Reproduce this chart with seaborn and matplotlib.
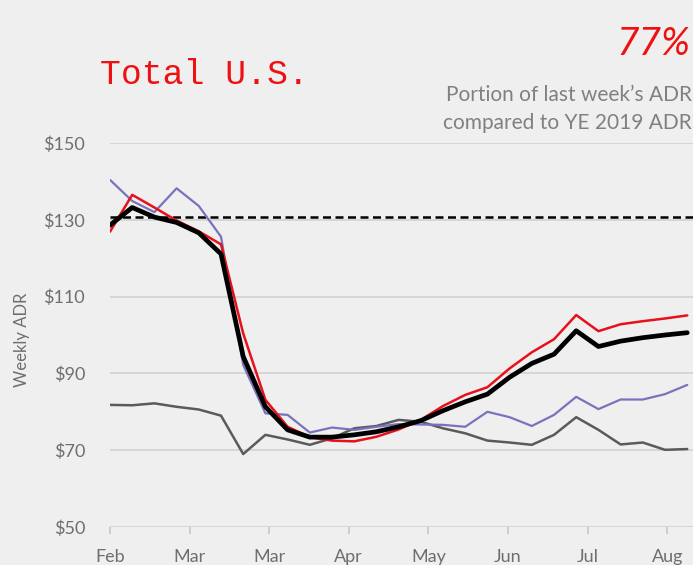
import numpy as np
import pandas as pd
import matplotlib
matplotlib.use("Agg")
import matplotlib.pyplot as plt
import seaborn as sns

# ---- data (weekly points) ----
total_us = [128.6, 133.2, 130.7, 129.3, 126.6, 121.1, 94.4, 81.3, 75.3, 73.4,
            73.4, 74.0, 74.8, 76.1, 77.7, 80.3, 82.6, 84.6, 89.0, 92.6,
            95.0, 101.1, 97.0, 98.4, 99.3, 100.0, 100.6]
series_red = [126.9, 136.5, 133.2, 129.8, 127.0, 123.6, 100.4, 83.1, 76.1, 73.4,
              72.5, 72.3, 73.5, 75.4, 77.9, 81.5, 84.4, 86.4, 91.3, 95.5,
              98.9, 105.2, 101.0, 102.8, 103.6, 104.3, 105.1]
series_blue = [140.4, 134.9, 132.0, 138.2, 133.6, 125.6, 92.2, 79.6, 79.2, 74.6,
               75.9, 75.3, 76.1, 76.8, 76.7, 76.6, 76.1, 80.0, 78.6, 76.3,
               79.2, 83.9, 80.7, 83.2, 83.2, 84.6, 87.0]
series_gray = [81.8, 81.7, 82.2, 81.3, 80.6, 79.0, 69.0, 74.0, 72.8, 71.4,
               73.1, 75.7, 76.3, 77.9, 77.4, 75.7, 74.4, 72.5, 72.0, 71.4,
               74.0, 78.6, 75.3, 71.5, 72.0, 70.1, 70.3]
ye2019_adr = 130.7
month_labels = ["Feb", "Mar", "Mar", "Apr", "May", "Jun", "Jul", "Aug"]
y_ticks = [50, 70, 90, 110, 130, 150]

weeks = np.arange(len(total_us))
df = pd.DataFrame({"week": weeks, "total": total_us, "red": series_red,
                   "blue": series_blue, "gray": series_gray})

sns.set_theme(style="white")
plt.rcParams["font.family"] = ["Lato", "DejaVu Sans"]

bg = "#efefef"
fig = plt.figure(figsize=(6.93, 5.65), dpi=100, facecolor=bg)
ax = fig.add_axes([110 / 693, 38 / 565, 583 / 693, 384 / 565])
ax.set_facecolor(bg)

for v in y_ticks:
    ax.axhline(v, color="#d6d6d6", lw=1.4, zorder=1)

ax.axhline(ye2019_adr, color="black", lw=1.8, ls=(0, (3.2, 1.8)), zorder=3)

sns.lineplot(data=df, x="week", y="gray", ax=ax, color="#5a5a5a", lw=1.8, zorder=4)
sns.lineplot(data=df, x="week", y="blue", ax=ax, color="#7873bd", lw=1.6, zorder=5)
sns.lineplot(data=df, x="week", y="red", ax=ax, color="#e8101a", lw=1.8, zorder=6)
sns.lineplot(data=df, x="week", y="total", ax=ax, color="black", lw=3.4, zorder=7)
for ln in ax.lines:
    ln.set_solid_joinstyle("round")
    ln.set_solid_capstyle("round")

ax.set_xlim(0, 26.26)
ax.set_ylim(50, 150)
ax.set_yticks(y_ticks)
ax.set_yticklabels([f"${v}" for v in y_ticks])
ax.set_xticks(np.arange(len(month_labels)) * 3.585)
ax.set_xticklabels(month_labels)
ax.set_xlabel("")
ax.set_ylabel("")
for s in ax.spines.values():
    s.set_visible(False)
ax.tick_params(axis="y", length=0, pad=18, labelsize=13, labelcolor="#6e6e6e")
ax.tick_params(axis="x", direction="out", length=5, width=1.2, color="#c8c8c8",
               pad=10.5, labelsize=13, labelcolor="#6e6e6e", bottom=True)

fig.text(22 / 693, 1 - 340 / 565, "Weekly ADR", rotation=90, ha="center",
         va="center", fontsize=12, color="#6e6e6e")
fig.text(100 / 693, 1 - 84 / 565, "Total U.S.", ha="left", va="baseline",
         fontsize=25, color="#ee1111", family=["Liberation Mono", "DejaVu Sans Mono"])
fig.text(690 / 693, 1 - 55 / 565, "77%", ha="right", va="baseline",
         fontsize=28, color="#ee1111", style="italic", weight="normal",
         family=["Lato", "DejaVu Sans"])
fig.text(692 / 693, 1 - 101 / 565, "Portion of last week\u2019s ADR", ha="right",
         va="baseline", fontsize=15, color="#808080")
fig.text(692 / 693, 1 - 129 / 565, "compared to YE 2019 ADR", ha="right",
         va="baseline", fontsize=15, color="#808080")

fig.savefig("out.png", dpi=100, facecolor=bg)
